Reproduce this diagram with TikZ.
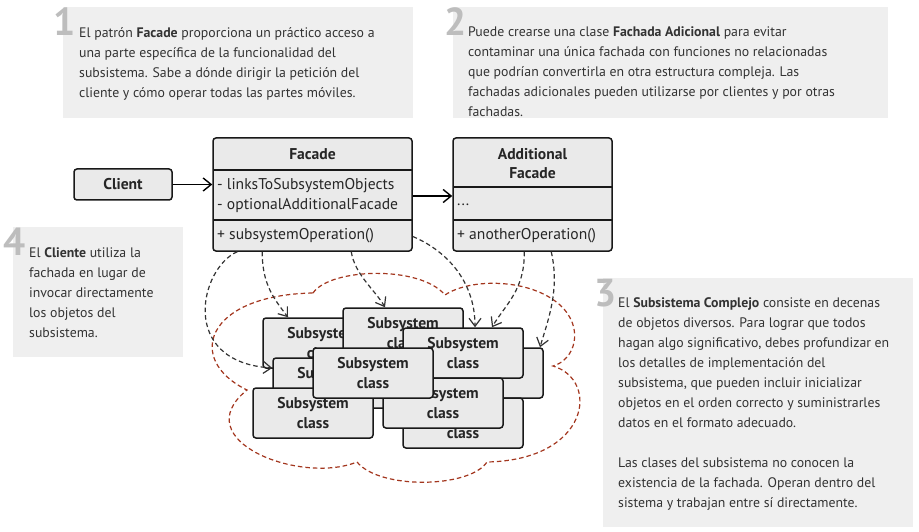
\documentclass[tikz,border=0pt]{standalone}
\usepackage{fontspec}
\setmainfont{PT Sans}
\usetikzlibrary{arrows.meta,calc}
\definecolor{boxbg}{HTML}{EFEFEF}
\definecolor{numc}{HTML}{BDBDBD}
\definecolor{txt}{HTML}{333333}
\definecolor{umlfill}{HTML}{EAEAEA}
\definecolor{cloudc}{HTML}{A3361E}
\definecolor{arrc}{HTML}{333333}
\begin{document}
\begin{tikzpicture}[x=1pt,y=-1pt,
  notetext/.style={anchor=base west, inner sep=0, align=left, text=txt, font=\fontsize{13.8}{20}\selectfont},
  num/.style={anchor=base west, inner sep=0, text=numc, font=\fontsize{39}{39}\selectfont\bfseries},
  uml/.style={draw=black!90, line width=1.5pt, rounded corners=3pt, fill=umlfill, inner sep=0},
  umltxt/.style={inner sep=0, font=\fontsize{15.6}{19}\selectfont, text=black!85},
  umlbold/.style={inner sep=0, align=center, font=\fontsize{15.6}{19}\selectfont\bfseries, text=black!85},
  sub/.style={uml, minimum width=120pt, minimum height=50pt, align=center, text=black!85, font=\fontsize{15.6}{20}\selectfont\bfseries},
  assoc/.style={line width=1.4pt, -{Straight Barb[length=8pt,width=13pt]}},
  dep/.style={arrc, line width=1.2pt, dash pattern=on 4.5pt off 3pt, -{Straight Barb[length=8pt,width=12pt]}},
  cloudline/.style={cloudc, line width=1.2pt, dash pattern=on 4.5pt off 3pt}
]
\fill[white] (0,0) rectangle (919,532);
\useasboundingbox (0,0) rectangle (919,532);

% notes
\fill[boxbg] (63,7) rectangle (413,118);
\fill[boxbg] (453,7) rectangle (888,118);
\fill[boxbg] (13,227) rectangle (183,357);
\fill[boxbg] (603,278) rectangle (913,527);

\node[num] (n1) at (53,36) {1};
\node[num] (n2) at (444,36) {2};
\node[num] (n4) at (3,255) {4};
\node[num] (n3) at (594,306) {3};

% (multi-line nodes: base = last line)
\node[notetext] (t1) at (79,97.5) {El patrón \textbf{Facade} proporciona un práctico acceso a\\una parte específica de la funcionalidad del\\subsistema. Sabe a dónde dirigir la petición del\\cliente y cómo operar todas las partes móviles.};
\node[notetext] (t2) at (468,117) {Puede crearse una clase \textbf{Fachada Adicional} para evitar\\contaminar una única fachada con funciones no relacionadas\\que podrían convertirla en otra estructura compleja. Las\\fachadas adicionales pueden utilizarse por clientes y por otras\\fachadas.};
\node[notetext] (t4) at (29,337.5) {El \textbf{Cliente} utiliza la\\fachada en lugar de\\invocar directamente\\los objetos del\\subsistema.};
\node[notetext] (t3) at (618,507.5) {El \textbf{Subsistema Complejo} consiste en decenas\\de objetos diversos. Para lograr que todos\\hagan algo significativo, debes profundizar en\\los detalles de implementación del\\subsistema, que pueden incluir inicializar\\objetos en el orden correcto y suministrarles\\datos en el formato adecuado.\\[20pt]Las clases del subsistema no conocen la\\existencia de la fachada. Operan dentro del\\sistema y trabajan entre sí directamente.};

% cloud
\draw[cloudline] (313,293)
  .. controls (330,268) and (420,265) .. (445,295)
  .. controls (470,278) and (530,278) .. (560,305)
  .. controls (585,328) and (575,360) .. (553,366)
  .. controls (600,380) and (590,460) .. (487,462)
  .. controls (470,488) and (380,490) .. (357,462)
  .. controls (300,485) and (185,440) .. (247,390)
  .. controls (185,360) and (205,295) .. cycle;

% subsystem classes
\node[sub] (A) at (323,343) {Subsystem\\class};
\node[sub] (B) at (403,333) {Subsystem\\class};
\node[sub] (E) at (333,383) {Subsystem\\class};
\node[sub] (G) at (313,413) {Subsystem\\class};
\node[sub] (D) at (483,373) {Subsystem\\class};
\node[sub] (C) at (463,353) {Subsystem\\class};
\node[sub] (I) at (463,423) {Subsystem\\class};
\node[sub] (H) at (443,403) {Subsystem\\class};
\node[sub] (F) at (373,373) {Subsystem\\class};

% UML classes
\node[uml, minimum width=98pt, minimum height=31pt, font=\fontsize{15.6}{19}\selectfont\bfseries, text=black!85] (client) at (123,184.5) {Client};

\node[uml, minimum width=199pt, minimum height=113pt] (facade) at (312.5,194.5) {};
\draw[line width=1.5pt, black!90] (213,170) -- (412,170);
\draw[line width=1.5pt, black!90] (213,220) -- (412,220);
\node[umlbold] (facadeT) at (312.5,154) {Facade};
\node[umltxt, anchor=west] (fa1) at (217,186) {- linksToSubsystemObjects};
\node[umltxt, anchor=west] (fa2) at (217,206) {- optionalAdditionalFacade};
\node[umltxt, anchor=west] (fm1) at (217,236) {+ subsystemOperation()};

\node[uml, minimum width=159pt, minimum height=113pt] (addl) at (532.5,194.5) {};
\draw[line width=1.5pt, black!90] (453,187) -- (612,187);
\draw[line width=1.5pt, black!90] (453,220) -- (612,220);
\node[umlbold] (addlT) at (532.5,163.5) {Additional\\Facade};
\node[umltxt, anchor=west] (aa1) at (457,205) {...};
\node[umltxt, anchor=west] (am1) at (457,236) {+ anotherOperation()};

% associations
\draw[assoc] (client.east) -- (client.east -| facade.west);
\draw[assoc] ([yshift=-1.5pt]facade.east) -- ([yshift=-1.5pt]facade.east -| addl.west);

% dependencies
\draw[dep] ([xshift=25pt]facade.south west) .. controls (200,268) and (178,362) .. ([yshift=15pt]E.west);
\draw[dep] ([xshift=50pt]facade.south west) .. controls (262,285) and (275,300) .. ([xshift=-35pt]A.north);
\draw[dep] ([xshift=139pt]facade.south west) .. controls (355,275) and (375,290) .. ([xshift=-18pt]B.north);
\draw[dep] ([yshift=-42pt]facade.east) .. controls (445,250) and (475,280) .. ([xshift=12pt]C.north);
\draw[dep] ([xshift=72pt]addl.south west) .. controls (525,290) and (505,305) .. ([xshift=29pt]C.north);
\draw[dep] ([xshift=99pt]addl.south west) .. controls (560,290) and (548,320) .. ([xshift=57pt]D.north);
\end{tikzpicture}
\end{document}
